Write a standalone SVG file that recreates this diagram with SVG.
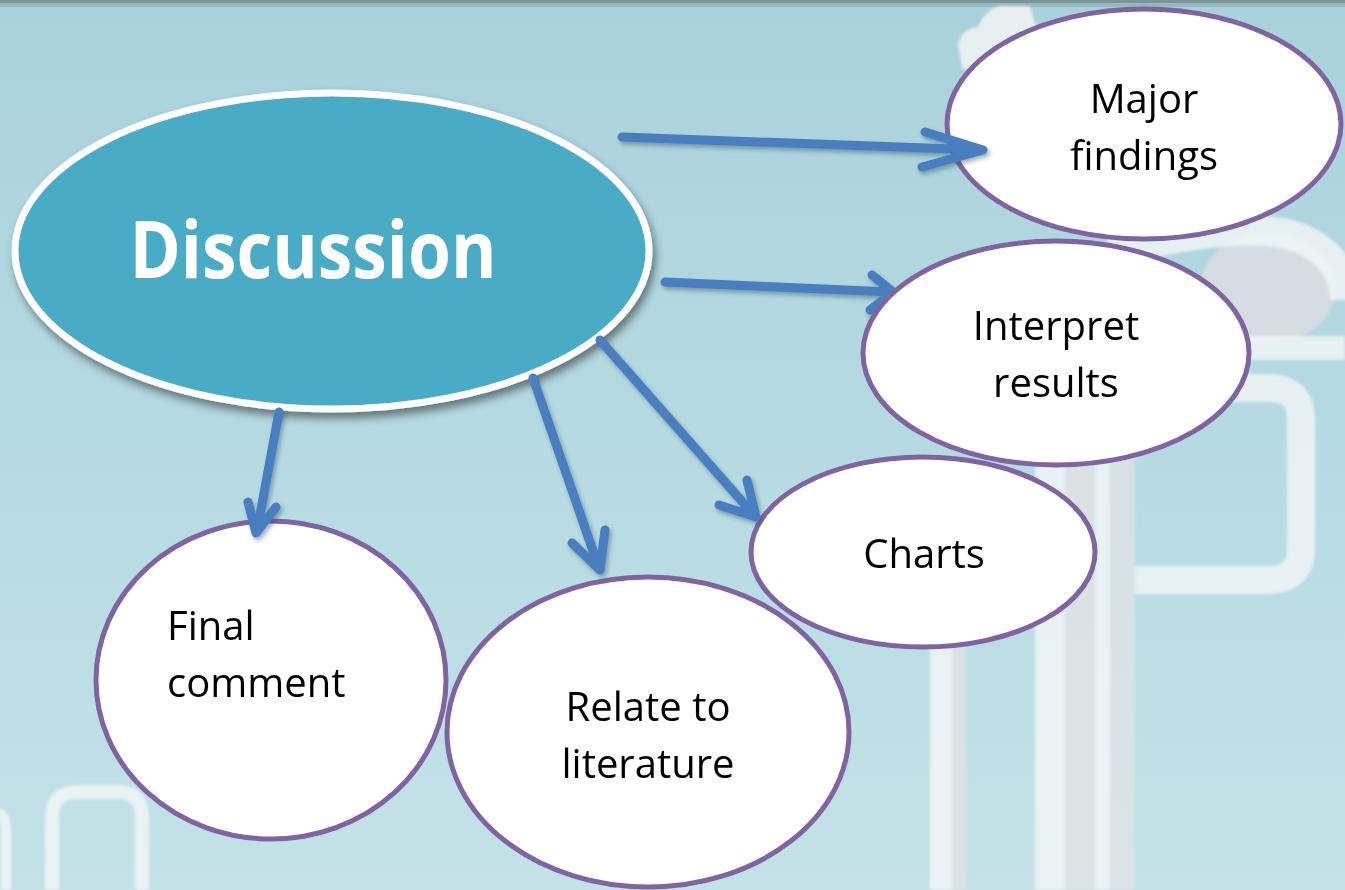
<svg xmlns="http://www.w3.org/2000/svg" width="1345" height="890" viewBox="0 0 1345 890">
<defs>
<linearGradient id="bg" x1="0" y1="0" x2="0" y2="1">
<stop offset="0" stop-color="#a9d2dc"/>
<stop offset="1" stop-color="#c4e2e8"/>
</linearGradient>
<filter id="shadow" x="-10%" y="-10%" width="125%" height="130%">
<feDropShadow dx="3" dy="6" stdDeviation="4" flood-color="#000" flood-opacity="0.45"/>
</filter>
<filter id="ashadow" x="-20%" y="-20%" width="140%" height="140%">
<feDropShadow dx="2" dy="3" stdDeviation="2" flood-color="#1f3d5c" flood-opacity="0.4"/>
</filter>
<filter id="soft"><feGaussianBlur stdDeviation="1.5"/></filter>
<style>
.node{fill:#fff;stroke:#8064a2;stroke-width:5}
.lbl{font-family:"Open Sans","Liberation Sans",sans-serif;font-size:40px;fill:#000;text-anchor:middle}
.lbl-left{text-anchor:start}
.arr{fill:none;stroke:#4a7ebf;stroke-width:9;stroke-linecap:round;stroke-linejoin:round}
.deco{fill:none;stroke:#f4f6f7;stroke-opacity:0.8}
.decog{fill:#dcdfe2;opacity:0.8}
</style>
</defs>
<rect width="1345" height="890" fill="url(#bg)"/>
<rect width="1345" height="3" fill="#7a969b"/>
<rect y="3" width="1345" height="4" fill="#97b8bf"/>
<g id="background-decor" filter="url(#soft)">
<ellipse cx="1268" cy="288" rx="68" ry="55" class="decog"/>
<path class="deco" stroke-width="30" d="M1110,252 Q1250,218 1300,238 Q1345,258 1345,300"/>
<path class="deco" stroke-width="28" d="M1135,388 H1268 Q1301,388 1301,420 V548 Q1301,580 1268,580 H1135"/>
<path class="deco" stroke-width="24" d="M1135,348 H1345"/>
<rect x="930" y="470" width="22" height="420" fill="#f4f6f7" opacity="0.8"/>
<rect x="952" y="470" width="14" height="420" fill="#e0e2e4" opacity="0.8"/>
<rect x="1035" y="250" width="30" height="640" fill="#f4f6f7" opacity="0.8"/>
<rect x="1065" y="250" width="30" height="640" fill="#e2e3e5" opacity="0.8"/>
<rect x="1095" y="250" width="15" height="640" fill="#f4f6f7" opacity="0.8"/>
<rect x="1110" y="250" width="25" height="640" fill="#e2e3e5" opacity="0.75"/>
<path d="M958,45 Q962,28 978,27 Q985,10 1000,6 L1030,6 L1040,40 L985,75 L962,68 Z" fill="#f2f4f5" opacity="0.85"/>
<path class="deco" stroke-width="14" d="M52,890 V818 Q52,792 78,792 H118 Q142,792 142,818 V890"/>
<path class="deco" stroke-width="10" d="M-5,815 Q5,810 6,830 V890"/>
</g>
<g id="node-major">
<ellipse class="node" cx="1144" cy="124" rx="197" ry="115"/>
<text class="lbl" x="1144" y="113">Major</text>
<text class="lbl" x="1144" y="170">findings</text>
</g>
<g id="node-final">
<ellipse class="node" cx="271" cy="680" rx="175" ry="159"/>
<text class="lbl lbl-left" x="167" y="640">Final</text>
<text class="lbl lbl-left" x="167" y="697">comment</text>
</g>
<g id="node-relate">
<ellipse class="node" cx="648" cy="732" rx="201" ry="155"/>
<text class="lbl" x="648" y="721">Relate to</text>
<text class="lbl" x="648" y="778">literature</text>
</g>
<g id="node-charts">
<ellipse class="node" cx="923" cy="552" rx="172" ry="95"/>
<text class="lbl" x="924" y="568">Charts</text>
</g>
<g id="node-discussion">
<ellipse cx="332" cy="251" rx="317" ry="158" fill="#4aabc5" stroke="#fff" stroke-width="7" filter="url(#shadow)"/>
<text x="313" y="278" font-family="'Open Sans','Liberation Sans',sans-serif" font-weight="bold" font-size="78" fill="#fff" text-anchor="middle" textLength="367" lengthAdjust="spacingAndGlyphs">Discussion</text>
</g>
<g id="connectors" filter="url(#ashadow)">
<path class="arr" stroke-width="10" d="M622,137 L981,150 M925,132 L983,150 L922,167"/>
<path class="arr" stroke-width="8" d="M665,282 L891,292 M872,275 L893,292 L870,310"/>
<path class="arr" d="M279,412 L257,531 M248,502 L256,533 L276,507"/>
<path class="arr" d="M533,378 L599,568 M572,543 L600,570 L605,530"/>
<path class="arr" d="M600,340 L754,515 M719,505 L756,517 L747,480"/>
</g>
<g id="node-interpret">
<ellipse class="node" cx="1056" cy="353" rx="193" ry="112"/>
<text class="lbl" x="1056" y="340">Interpret</text>
<text class="lbl" x="1056" y="397">results</text>
</g>
</svg>
